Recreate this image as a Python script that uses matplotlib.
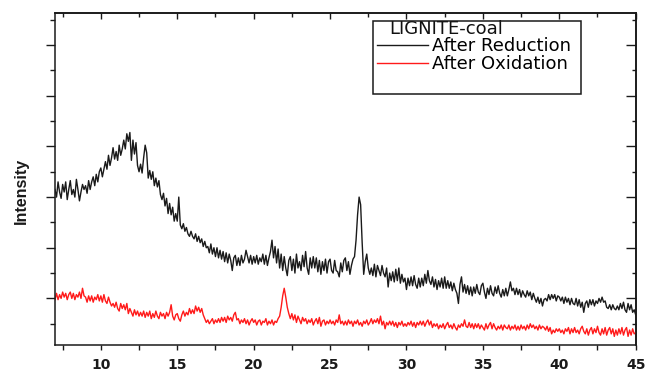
import numpy as np
import matplotlib
matplotlib.use("Agg")
import matplotlib.pyplot as plt
from matplotlib.patches import Rectangle
from matplotlib.ticker import MultipleLocator, FixedLocator

# 2-theta grid (degrees), 0.1 step
two_theta = np.round(np.arange(7.0, 45.001, 0.1), 1)

# intensity (arbitrary units, stacked) after reduction, one row per degree
after_reduction = [
    5.3, 5.0, 5.6, 5.2, 4.95, 5.5, 5.2, 5.6, 4.9, 5.3,
    5.65, 5.1, 5.3, 5.0, 5.7, 5.3, 4.85, 5.2, 5.5, 5.3,
    5.45, 5.15, 5.65, 5.3, 5.6, 5.8, 5.45, 5.9, 5.6, 6.0,
    6.15, 5.8, 6.1, 6.4, 6.1, 6.65, 6.25, 6.55, 6.95, 6.5,
    6.8, 6.45, 7.05, 6.65, 6.9, 7.25, 6.9, 7.5, 7.2, 7.55,
    6.45, 7.25, 6.7, 7.15, 6.25, 6.0, 6.3, 5.95, 6.55, 7.05,
    6.75, 5.75, 6.05, 5.7, 6.0, 5.45, 5.75, 5.4, 5.65, 5.1,
    4.9, 5.15, 4.65, 4.95, 4.35, 4.75, 4.3, 4.6, 4.05, 4.35,
    4.05, 5.0, 3.9, 3.75, 3.95, 3.65, 3.8, 3.55, 3.45, 3.65,
    3.45, 3.35, 3.55, 3.25, 3.45, 3.2, 3.35, 3.05, 3.25, 3.0,
    3.05, 2.8, 3.15, 2.75, 3.0, 2.65, 3.0, 2.6, 2.9, 2.55,
    2.85, 2.45, 2.8, 2.4, 2.75, 2.5, 2.1, 2.6, 2.7, 2.3,
    2.6, 2.3, 2.7, 2.4, 2.55, 2.9, 2.65, 2.4, 2.7, 2.35,
    2.65, 2.4, 2.7, 2.35, 2.6, 2.45, 2.75, 2.35, 2.7, 2.3,
    2.6, 2.85, 3.3, 2.6, 3.05, 2.4, 2.95, 2.2, 2.75, 2.1,
    2.65, 2.2, 1.9, 2.5, 2.65, 2.1, 2.55, 2.0, 2.75, 2.2,
    2.45, 2.1, 2.7, 2.25, 2.85, 2.2, 1.95, 2.6, 2.2, 2.65,
    2.2, 2.6, 2.05, 2.5, 1.95, 2.45, 2.1, 2.55, 2.0, 2.45,
    2.55, 2.1, 2.0, 2.5, 2.1, 2.05, 1.85, 2.4, 2.05, 2.5,
    2.6, 2.1, 2.45, 1.95, 2.3, 2.55, 2.65, 3.3, 4.3, 5.0,
    4.7, 3.2, 1.95, 2.45, 2.75, 2.2, 1.95, 2.2, 1.9, 2.35,
    1.85, 2.3, 2.1, 1.9, 2.3, 2.0, 1.85, 2.2, 1.45, 2.0,
    1.7, 2.05, 1.65, 2.15, 1.7, 2.2, 1.6, 1.95, 1.65, 1.8,
    1.35, 1.8, 1.5, 1.85, 1.5, 1.9, 1.55, 1.4, 1.8, 1.45,
    1.8, 1.5, 1.95, 1.6, 2.1, 1.7, 1.55, 1.85, 1.45, 1.75,
    1.35, 1.7, 1.45, 1.8, 1.4, 1.85, 1.4, 1.7, 1.4, 1.65,
    1.3, 1.6, 1.35, 1.2, 0.8, 1.55, 1.85, 1.25, 1.55, 1.2,
    1.5, 1.15, 1.45, 1.1, 1.45, 1.2, 1.55, 1.25, 1.15, 1.5,
    1.6, 1.25, 1.0, 1.4, 1.15, 1.5, 1.2, 1.1, 1.45, 1.2,
    1.5, 1.2, 1.05, 1.35, 1.1, 1.4, 1.1, 1.35, 1.65, 1.3,
    1.4, 1.15, 1.4, 1.15, 1.35, 1.05, 1.3, 1.15, 1.05, 1.3,
    1.1, 1.25, 0.95, 1.2, 1.0, 0.85, 1.05, 0.8, 1.0, 0.7,
    0.95, 1.0, 0.9, 1.15, 0.95, 1.15, 1.0, 1.15, 0.9, 1.1,
    1.05, 0.9, 1.05, 0.8, 1.05, 0.85, 1.0, 0.75, 1.0, 0.8,
    0.75, 1.0, 0.7, 0.95, 0.65, 0.85, 0.45, 0.8, 0.9, 0.65,
    0.95, 0.75, 0.95, 0.7, 0.9, 0.8, 1.0, 0.85, 1.05, 0.85,
    0.9, 0.65, 0.6, 0.75, 0.55, 0.75, 0.6, 0.55, 0.7, 0.55,
    0.8, 0.6, 0.85, 0.55, 0.45, 0.8, 0.55, 0.75, 0.45, 0.55,
    0.35,
]

# intensity after oxidation
after_oxidation = [
    0.95, 1.2, 0.95, 1.15, 1.0, 1.25, 1.05, 1.2, 0.95, 1.15,
    1.25, 1.0, 1.2, 0.95, 1.15, 1.05, 1.25, 1.0, 1.4, 1.1,
    1.05, 0.85, 1.1, 0.9, 1.1, 0.85, 1.05, 0.95, 1.15, 0.9,
    1.1, 0.85, 1.15, 0.9, 0.8, 1.05, 0.85, 0.7, 0.8, 0.65,
    0.85, 0.6, 0.5, 0.8, 0.6, 0.75, 0.55, 0.8, 0.4, 0.6,
    0.45, 0.3, 0.55, 0.35, 0.5, 0.3, 0.45, 0.3, 0.5, 0.25,
    0.45, 0.3, 0.5, 0.2, 0.4, 0.25, 0.5, 0.3, 0.2, 0.45,
    0.3, 0.4, 0.2, 0.45, 0.3, 0.45, 0.75, 0.3, 0.15, 0.35,
    0.4, 0.2, 0.1, 0.35, 0.5, 0.3, 0.45, 0.35, 0.6, 0.4,
    0.55, 0.4, 0.7, 0.5, 0.65, 0.45, 0.6, 0.35, 0.2, 0.05,
    0.15, 0.0, 0.1, 0.2, 0.0, 0.15, 0.05, 0.2, 0.05, 0.25,
    0.1, 0.25, 0.05, 0.3, 0.15, 0.25, 0.1, 0.35, 0.45, 0.15,
    0.2, 0.0, 0.15, 0.05, 0.2, 0.0, 0.15, -0.05, 0.1, 0.2,
    0.05, 0.15, -0.05, 0.1, 0.15, -0.05, 0.1, 0.05, 0.2, -0.05,
    0.1, 0.0, 0.15, -0.05, 0.1, 0.05, 0.2, 0.3, 0.65, 1.1,
    1.4, 1.05, 0.65, 0.4, 0.2, 0.4, 0.15, 0.35, 0.05, 0.3,
    0.15, 0.0, 0.25, 0.1, 0.2, 0.0, 0.15, 0.05, 0.2, -0.05,
    0.1, 0.2, 0.0, 0.25, -0.1, 0.1, 0.15, -0.05, 0.1, 0.0,
    0.15, 0.0, 0.1, -0.05, 0.15, 0.05, 0.35, 0.0, 0.1, -0.05,
    0.1, -0.05, 0.15, 0.0, 0.1, -0.1, 0.1, 0.0, 0.15, -0.05,
    0.05, -0.1, 0.1, 0.0, 0.15, -0.05, 0.05, 0.2, 0.0, 0.15,
    0.05, 0.2, 0.0, 0.3, -0.05, 0.1, -0.2, 0.05, -0.05, 0.1,
    -0.05, 0.1, -0.1, 0.05, -0.15, 0.05, -0.05, 0.1, -0.1, 0.0,
    -0.1, 0.05, -0.05, 0.1, -0.1, 0.05, -0.15, 0.05, -0.05, 0.1,
    -0.05, 0.1, -0.1, 0.05, 0.15, -0.05, 0.1, -0.15, 0.0, -0.1,
    0.0, -0.2, -0.05, -0.15, 0.0, -0.2, -0.05, 0.05, -0.15, -0.05,
    -0.2, 0.0, -0.15, -0.25, -0.05, -0.15, 0.0, -0.1, 0.15, -0.1,
    -0.15, 0.05, -0.15, 0.0, -0.2, 0.0, -0.15, 0.0, -0.2, -0.05,
    -0.15, -0.25, 0.0, -0.2, -0.05, 0.05, -0.2, 0.0, -0.15, -0.25,
    -0.1, -0.2, -0.05, -0.25, -0.05, -0.15, -0.2, -0.05, -0.25, -0.1,
    -0.2, -0.05, -0.25, -0.1, -0.25, -0.05, -0.2, -0.1, -0.25, -0.05,
    -0.2, 0.0, -0.15, -0.05, -0.2, -0.1, -0.25, -0.05, -0.2, -0.1,
    -0.15, -0.25, -0.1, -0.3, -0.15, -0.4, -0.25, -0.35, -0.2, -0.3,
    -0.2, -0.35, -0.25, -0.4, -0.2, -0.3, -0.15, -0.4, -0.2, -0.35,
    -0.15, -0.35, -0.25, -0.4, -0.2, -0.1, -0.3, -0.4, -0.2, -0.45,
    -0.25, -0.15, -0.4, -0.2, -0.35, -0.1, -0.35, -0.45, -0.2, -0.4,
    -0.15, -0.45, -0.25, -0.15, -0.4, -0.2, -0.5, -0.25, -0.45, -0.2,
    -0.4, -0.15, -0.45, -0.25, -0.15, -0.5, -0.25, -0.45, -0.2, -0.4,
    -0.35,
]

series_labels = ["After Reduction", "After Oxidation"]
legend_title = "LIGNITE-coal"

assert len(after_reduction) == len(two_theta) == len(after_oxidation)

INK = "#1a1a1a"

fig = plt.figure(figsize=(6.47, 3.71), dpi=100)
ax = fig.add_axes([55 / 647, 1 - 345 / 371, 580.7 / 647, 332.3 / 371])

line_red, = ax.plot(two_theta, after_reduction, color=INK, lw=1.0)
line_ox, = ax.plot(two_theta, after_oxidation, color="#ff1a1a", lw=1.0)

ax.set_xlim(7, 45)
ax.set_ylim(-0.84, 12.28)

for s in ax.spines.values():
    s.set_linewidth(1.1)
    s.set_color(INK)

# bottom / left: outward ticks
ax.xaxis.set_major_locator(MultipleLocator(5))
ax.xaxis.set_minor_locator(MultipleLocator(2.5))
ax.yaxis.set_major_locator(FixedLocator(range(1, 13, 2)))
ax.yaxis.set_minor_locator(FixedLocator(range(0, 13, 2)))
ax.tick_params(axis="x", which="both", direction="out", top=False,
               length=3.6, width=1.0, color=INK, pad=5.5)
ax.tick_params(axis="y", which="major", direction="out", right=False,
               length=6.5, width=1.0, color=INK, labelleft=False)
ax.tick_params(axis="y", which="minor", direction="out", right=False,
               length=3.3, width=1.0, color=INK)
for lbl in ax.get_xticklabels():
    lbl.set_fontsize(10)
    lbl.set_fontweight("bold")
    lbl.set_color(INK)

# top / right: inward ticks
top = ax.secondary_xaxis("top")
top.xaxis.set_major_locator(MultipleLocator(5))
top.xaxis.set_minor_locator(MultipleLocator(2.5))
top.tick_params(axis="x", which="major", direction="in", length=4.5,
                width=1.0, color=INK, labeltop=False)
top.tick_params(axis="x", which="minor", direction="in", length=3.0,
                width=1.0, color=INK)
top.spines["top"].set_linewidth(1.1)

right = ax.secondary_yaxis("right")
right.yaxis.set_major_locator(FixedLocator(range(1, 13, 2)))
right.yaxis.set_minor_locator(FixedLocator(range(0, 13, 2)))
right.tick_params(axis="y", which="major", direction="in", length=7,
                  width=1.0, color=INK, labelright=False)
right.tick_params(axis="y", which="minor", direction="in", length=3.0,
                  width=1.0, color=INK)
right.spines["right"].set_linewidth(1.1)

ax.set_ylabel("Intensity", family="Liberation Sans", fontsize=11.5,
              fontweight="bold", color=INK, va="center")
ax.yaxis.set_label_coords(-0.058, 0.465)

# legend box with title
ax.add_patch(Rectangle((0.5476, 0.756), 0.3582, 0.219, transform=ax.transAxes,
                       fill=False, ec=INK, lw=1.1, zorder=5))
ax.text(0.575, 0.951, legend_title, transform=ax.transAxes, ha="left",
        va="center", fontsize=13, color="#111111")
leg = ax.legend([line_red, line_ox], series_labels, loc="upper left",
                bbox_to_anchor=(0.5545, 0.9255), frameon=False, fontsize=13,
                handlelength=2.8, handletextpad=0.25, labelspacing=0.0,
                borderpad=0, borderaxespad=0)

fig.savefig("out.png", dpi=100)
